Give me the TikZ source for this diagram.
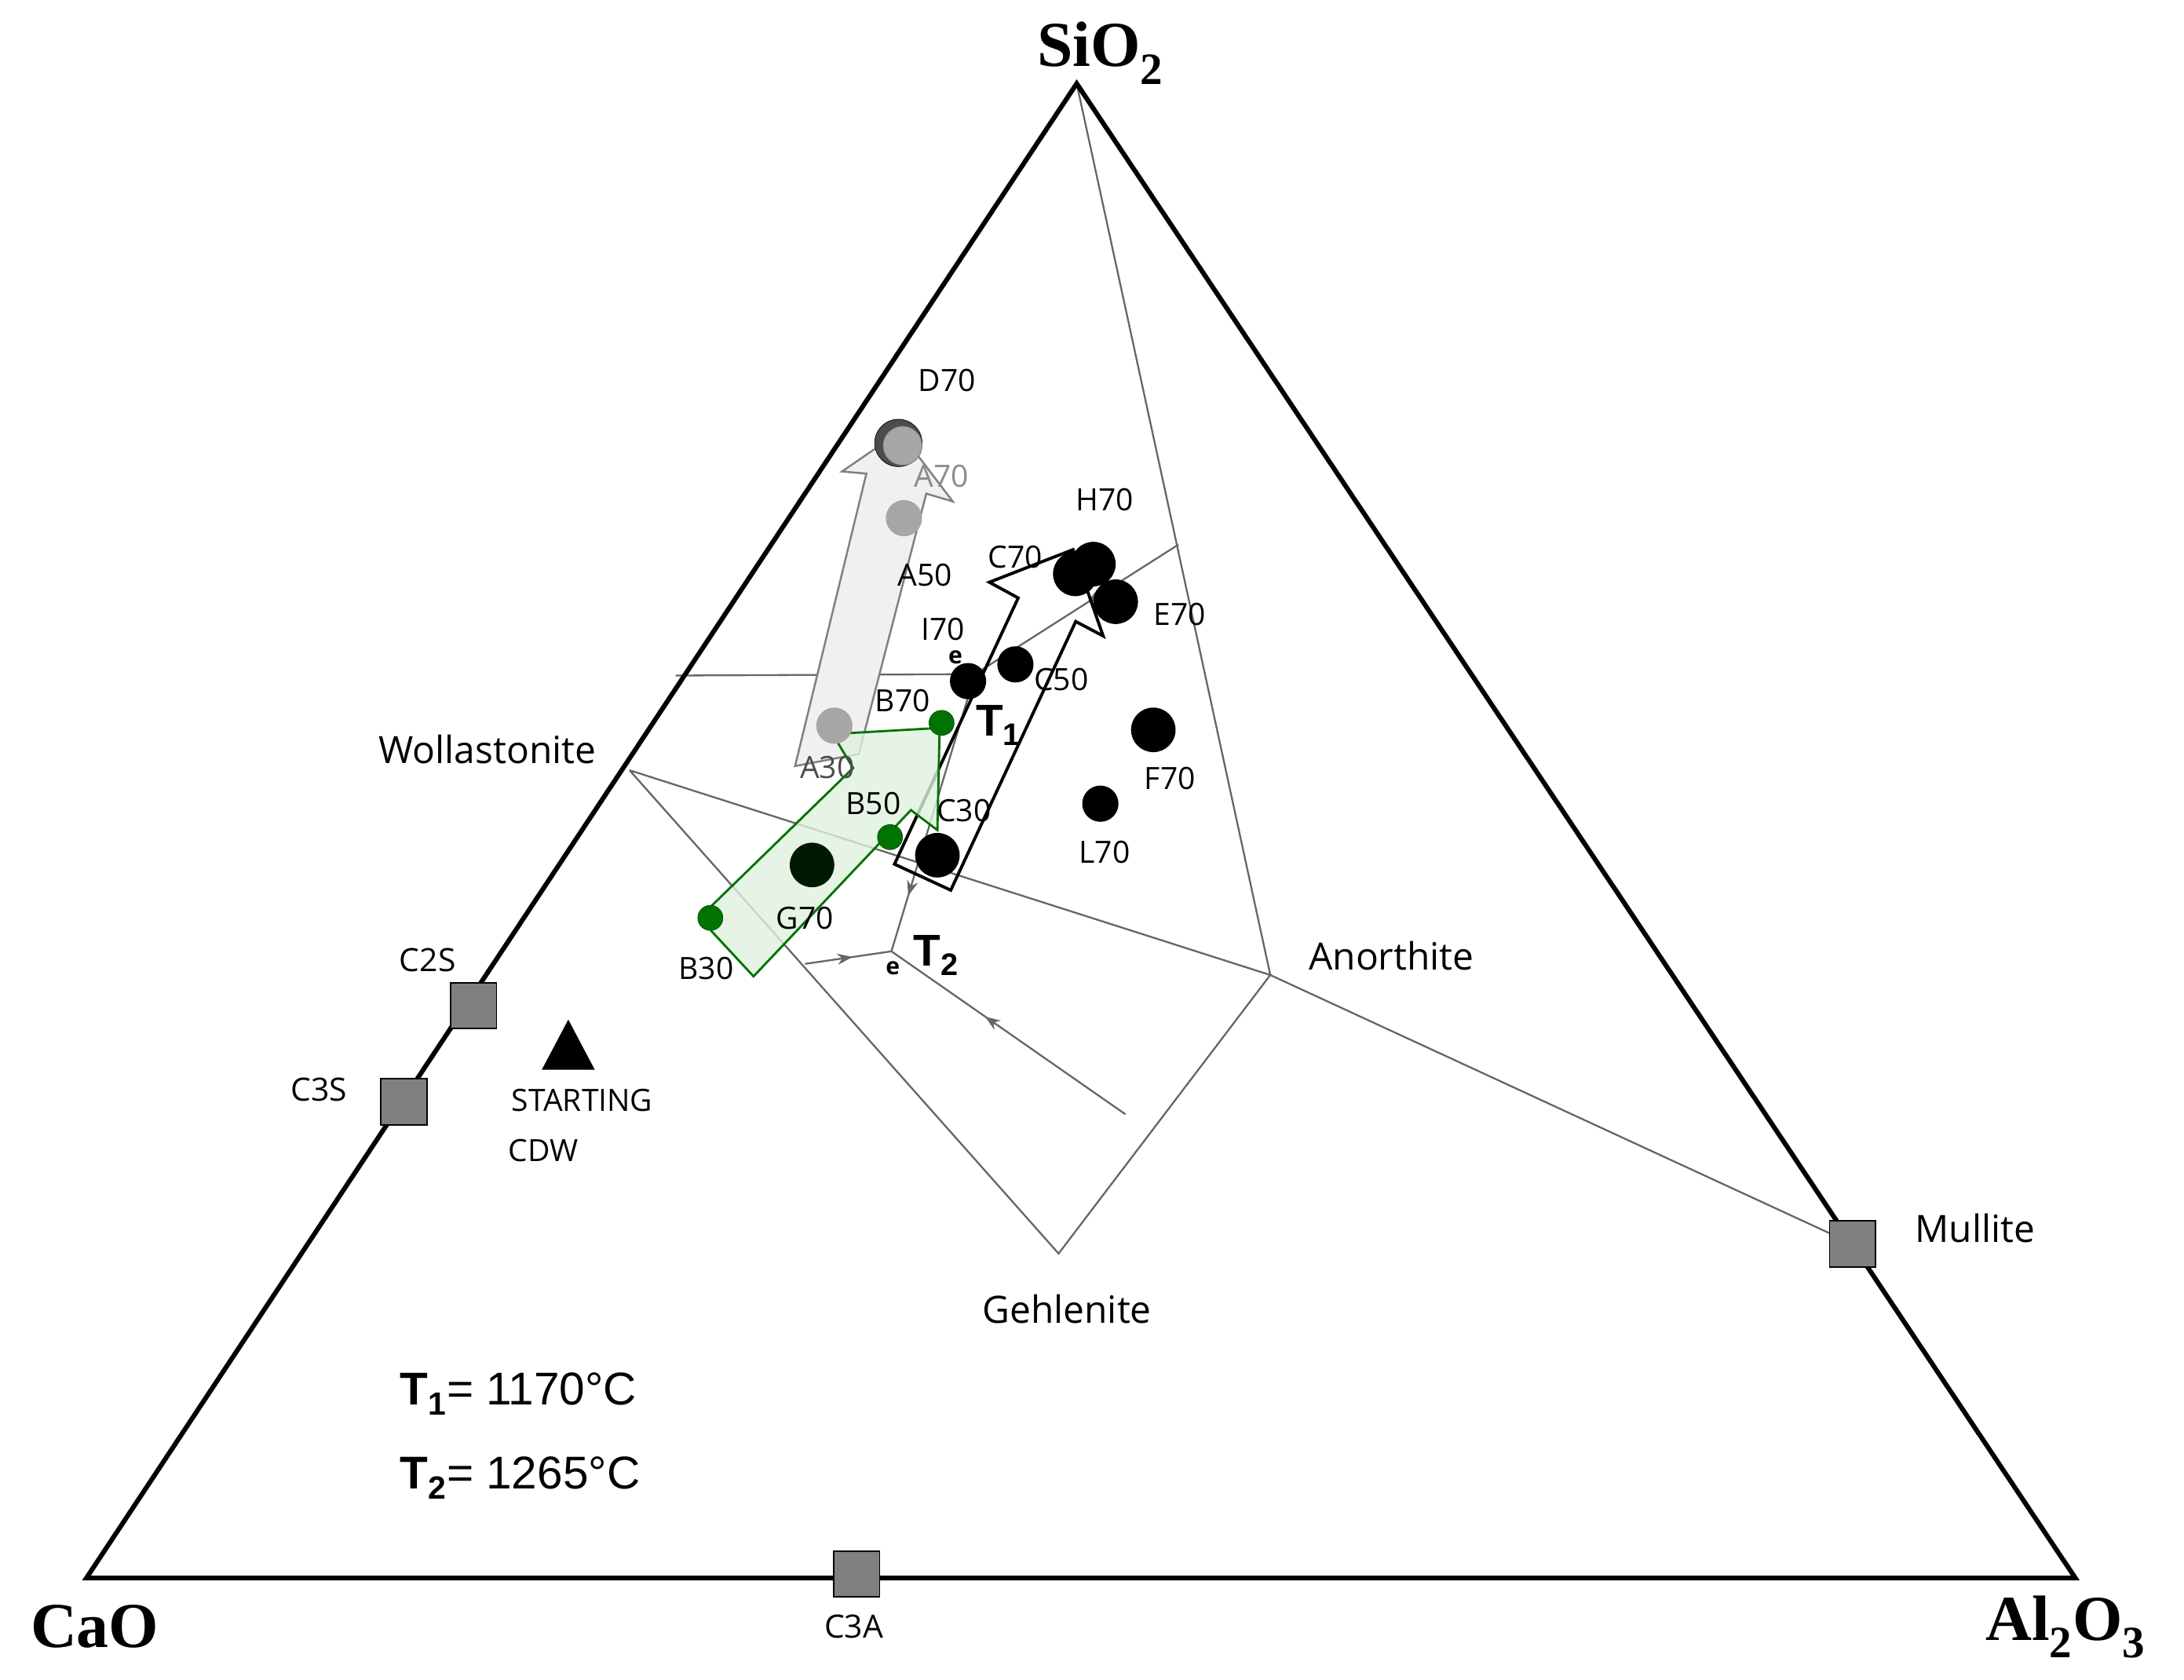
\documentclass[tikz,border=0pt]{standalone}
\usepackage{fontspec}
\setmainfont{Open Sans}
\newfontfamily\serifb{Liberation Serif}
\newfontfamily\arialf{Liberation Sans}
\usetikzlibrary{arrows.meta,decorations.markings}
\begin{document}
\begin{tikzpicture}[x=1pt,y=-1pt,
  thin/.style={draw=black!60,line width=1.3pt},
  midarrow/.style={thin,postaction={decorate},decoration={markings,mark=at position #1 with {\arrow{Stealth[length=11pt,width=8pt]}}}},
  blk/.style={circle,fill=black,inner sep=0pt,minimum size=#1},
  gdot/.style={circle,fill=green!45!black,draw=green!30!black,inner sep=0pt,minimum size=18pt},
  sq/.style={rectangle,fill=black!50,draw=black,line width=1pt,inner sep=0pt,minimum size=33pt},
  lab/.style={font=\fontsize{22}{24}\selectfont,inner sep=0pt},
  big/.style={font=\fontsize{27}{29}\selectfont,inner sep=0pt},
  apex/.style={font=\serifb\bfseries\fontsize{46}{48}\selectfont,inner sep=0pt}]
\useasboundingbox (0,0) rectangle (1568,1206);
\coordinate (S) at (773,60);
\coordinate (C) at (62,1133);
\coordinate (A) at (1490,1133);
\coordinate (W) at (452,553);
\coordinate (An) at (912,700);
\coordinate (Ge) at (760,900);
\coordinate (Mu) at (1330,893);
\coordinate (e1) at (700,484);
\coordinate (e2) at (640,683);
\coordinate (p1) at (846,391);
\coordinate (p2) at (485,485);
\coordinate (p3) at (808,800);
\coordinate (p4) at (578,692);
% thin lines
\draw[thin] (S) -- (An) -- (Mu);
\draw[thin] (W) -- (An) -- (Ge) -- (W);
\draw[midarrow=0.45] (p1) -- (e1);
\draw[midarrow=0.65] (p2) -- (e1);
\draw[midarrow=0.8] (e1) -- (e2);
\draw[midarrow=0.55] (p4) -- (e2);
\draw[midarrow=0.6] (p3) -- (e2);
% main triangle
\draw[line width=3.4pt,line join=miter] (S) -- (A) -- (C) -- cycle;
% gray arrow
\draw[draw=black!50,fill=black!6,line width=1.4pt] (570.8,550) -- (622,340) -- (604.5,338.5) -- (646,310) -- (684,360) -- (665,354.4) -- (616.6,541.3) -- cycle;
% black arrow
\draw[line width=2.2pt] (642.2,620.4) -- (731,429.3) -- (710.3,418) -- (770.4,394.6) -- (792,456.6) -- (772.3,446.2) -- (682.6,639.1) -- cycle;
% green arrow
\draw[draw=green!45!black,fill=green!40!gray!18,fill opacity=0.8,line width=1.6pt] (541,701) -- (502,659) -- (612.5,551.4) -- (597.7,527) -- (674.6,522.6) -- (673,596) -- (654,581.6) -- cycle;
% dots
\node[circle,fill=black!70,draw=black,inner sep=0pt,minimum size=34pt] (dD70) at (645,318) {};
\node[circle,fill=black!35,draw=black!55,inner sep=0pt,minimum size=28pt] (dA70) at (648,320) {};
\node[circle,fill=black!35,inner sep=0pt,minimum size=26pt] (dA50) at (649,372) {};
\node[circle,fill=black!35,inner sep=0pt,minimum size=26pt] (dA30) at (599,521) {};
\node[blk=32pt] (dH70) at (785,405) {};
\node[blk=32pt] (dC70) at (772,412) {};
\node[blk=32pt] (dE70) at (801,432) {};
\node[blk=26pt] (dI70) at (695,489) {};
\node[blk=26pt] (dC50) at (729,477) {};
\node[blk=32pt] (dF70) at (828,524) {};
\node[blk=26pt] (dL70) at (790,577) {};
\node[blk=32pt] (dC30) at (673,614) {};
\node[circle,fill=black!90!green,inner sep=0pt,minimum size=32pt] (dG70) at (583,621) {};
\node[gdot] (dB70) at (676,519) {};
\node[gdot] (dB50) at (639,601) {};
\node[gdot] (dB30) at (510,659) {};
% squares and triangle
\node[sq] (qC2S) at (340,722) {};
\node[sq] (qC3S) at (290,791) {};
\node[sq] (qMu) at (1330,893) {};
\node[sq] (qC3A) at (615,1130) {};
\fill (408,732) -- (427,768) -- (389,768) -- cycle;
\node[inner sep=0pt] (start) at (408,752) {};
% labels
\node[apex] (lS) at (790,38) {SiO\textsubscript{2}};
\node[apex] (lC) at (68,1168) {CaO};
\node[apex] (lA) at (1483,1168) {Al\textsubscript{2}O\textsubscript{3}};
\node[lab] at (680,273) {D70};
\node[lab,text=black!45] at (676,342) {A70};
\node[lab] at (793,359) {H70};
\node[lab] at (729,400) {C70};
\node[lab] at (664,413) {A50};
\node[lab] at (847,441) {E70};
\node[lab] at (677,452) {I70};
\node[lab] at (762,488) {C50};
\node[lab] at (648,503) {B70};
\node[lab,text=black!70] at (594,551) {A30};
\node[lab] at (627,577) {B50};
\node[lab] at (692,582) {C30};
\node[lab] at (840,559) {F70};
\node[lab] at (793,612) {L70};
\node[lab] at (578,659) {G70};
\node[lab] at (507,695) {B30};
\node[lab,font=\bfseries\fontsize{17}{18}\selectfont] at (686,472) {e};
\node[lab,font=\bfseries\fontsize{17}{18}\selectfont] at (641,695) {e};
\node[font=\arialf\bfseries\fontsize{32}{34}\selectfont,inner sep=0pt] at (717,521) {T\textsubscript{1}};
\node[font=\arialf\bfseries\fontsize{32}{34}\selectfont,inner sep=0pt] at (672,686) {T\textsubscript{2}};
\node[big] at (350,538) {Wollastonite};
\node[big] at (999,686) {Anorthite};
\node[big] at (1418,882) {Mullite};
\node[big] at (766,940) {Gehlenite};
\node[lab,font=\fontsize{23}{25}\selectfont] at (307,689) {C2S};
\node[lab,font=\fontsize{23}{25}\selectfont] at (229,782) {C3S};
\node[lab,font=\fontsize{23}{25}\selectfont] at (613,1168) {C3A};
\node[lab] at (418,790) {STARTING};
\node[lab] at (390,826) {CDW};
\node[font=\arialf\fontsize{33}{35}\selectfont,anchor=west,inner sep=0pt] at (287,1001) {\textbf{T\textsubscript{1}}= 1170°C};
\node[font=\arialf\fontsize{33}{35}\selectfont,anchor=west,inner sep=0pt] at (287,1061) {\textbf{T\textsubscript{2}}= 1265°C};
\end{tikzpicture}
\end{document}
